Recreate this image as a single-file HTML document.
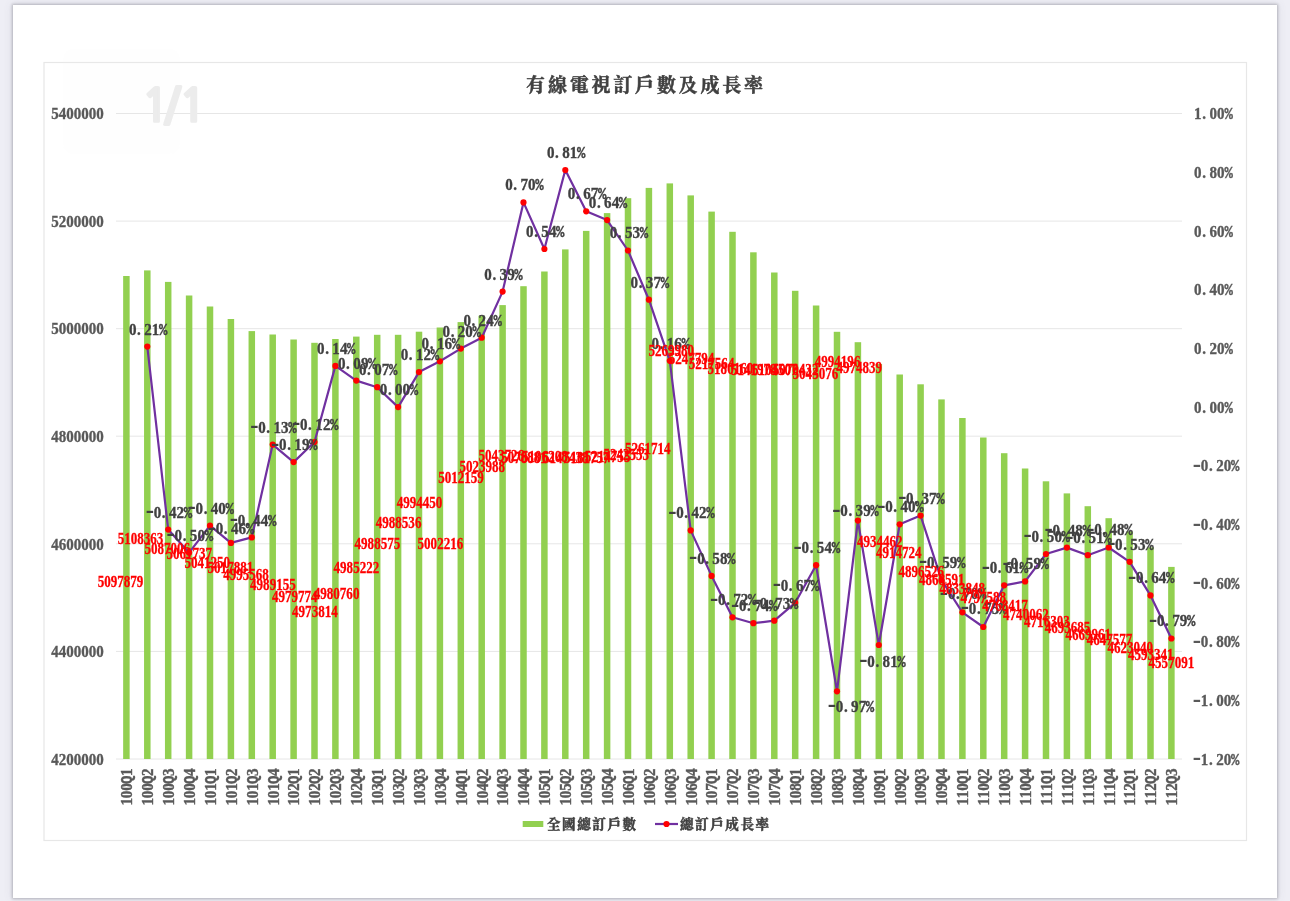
<!DOCTYPE html>
<html lang="zh-Hant"><head><meta charset="utf-8"><title>有線電視訂戶數及成長率</title>
<style>
html,body{margin:0;padding:0;}
body{width:1290px;height:901px;overflow:hidden;background:#eeeef5;font-family:"Liberation Serif","Noto Serif CJK SC",serif;}
.card{position:absolute;left:13px;top:5px;width:1264px;height:893px;background:#fff;box-shadow:0 0 2.5px .8px rgba(80,80,90,.32),0 0 9px 1px rgba(90,90,110,.10);}
svg{position:absolute;left:0;top:0;filter:blur(.3px);}
.ax{font:bold 17.7px "Liberation Serif","Noto Serif CJK SC",serif;fill:#595959;stroke:#595959;stroke-width:.35px;}
.cat{font:bold 17.7px "Liberation Serif","Noto Serif CJK SC",serif;fill:#595959;stroke:#595959;stroke-width:.4px;}
.pl{font:bold 17.7px "Liberation Serif","Noto Serif CJK SC",serif;fill:#404040;stroke:#404040;stroke-width:.35px;text-anchor:middle;}
.rl{font:bold 16.3px "Liberation Serif","Noto Serif CJK SC",serif;fill:#ff0000;stroke:#ff0000;stroke-width:.3px;text-anchor:middle;}
.ttl{font:bold 19px "Liberation Serif","Noto Serif CJK SC",serif;fill:#404040;text-anchor:middle;letter-spacing:2.8px;stroke:#404040;stroke-width:.5px;}
.lg{font:bold 13.5px "Liberation Serif","Noto Serif CJK SC",serif;fill:#404040;letter-spacing:1.6px;stroke:#404040;stroke-width:.5px;}
.wm{font:bold 46px "NanumGothic","Liberation Sans",sans-serif;fill:#ececec;stroke:#ececec;stroke-width:2px;stroke-linejoin:miter;}
.pc{font-family:"Liberation Mono",monospace;font-size:16.5px;}
.qq{font-family:"Liberation Mono",monospace;font-size:16.5px;}
.hy{font-family:"Liberation Mono",monospace;font-size:28px;font-weight:normal;stroke-width:0;}
</style></head><body>
<div class="card"></div>
<svg width="1290" height="901" viewBox="0 0 1290 901">

<rect x="44" y="62.5" width="1202.5" height="778" fill="#fff" stroke="#e7e7e7" stroke-width="1.2"/>
<rect x="63" y="49" width="117" height="105" rx="10" fill="#f2f2f2" fill-opacity="0.10"/>
<line x1="116" x2="1182" y1="113.5" y2="113.5" stroke="#e6e6e6" stroke-width="1"/>
<line x1="116" x2="1182" y1="221.1" y2="221.1" stroke="#e6e6e6" stroke-width="1"/>
<line x1="116" x2="1182" y1="328.7" y2="328.7" stroke="#e6e6e6" stroke-width="1"/>
<line x1="116" x2="1182" y1="436.2" y2="436.2" stroke="#e6e6e6" stroke-width="1"/>
<line x1="116" x2="1182" y1="543.8" y2="543.8" stroke="#e6e6e6" stroke-width="1"/>
<line x1="116" x2="1182" y1="651.4" y2="651.4" stroke="#e6e6e6" stroke-width="1"/>
<line x1="116" x2="1182" y1="759.0" y2="759.0" stroke="#e6e6e6" stroke-width="1"/>
<text class="wm" x="141.4 164.1 178.7" y="122">1/1</text>
<g fill="#92d050">
<rect x="123.15" y="276.0" width="6.5" height="483.0"/>
<rect x="144.05" y="270.4" width="6.5" height="488.6"/>
<rect x="164.95" y="281.9" width="6.5" height="477.1"/>
<rect x="185.85" y="295.5" width="6.5" height="463.5"/>
<rect x="206.75" y="306.5" width="6.5" height="452.5"/>
<rect x="227.65" y="319.0" width="6.5" height="440.0"/>
<rect x="248.55" y="331.1" width="6.5" height="427.9"/>
<rect x="269.45" y="334.5" width="6.5" height="424.5"/>
<rect x="290.35" y="339.5" width="6.5" height="419.5"/>
<rect x="311.25" y="342.8" width="6.5" height="416.2"/>
<rect x="332.15" y="339.0" width="6.5" height="420.0"/>
<rect x="353.05" y="336.6" width="6.5" height="422.4"/>
<rect x="373.95" y="334.8" width="6.5" height="424.2"/>
<rect x="394.85" y="334.8" width="6.5" height="424.2"/>
<rect x="415.75" y="331.7" width="6.5" height="427.3"/>
<rect x="436.65" y="327.5" width="6.5" height="431.5"/>
<rect x="457.55" y="322.1" width="6.5" height="436.9"/>
<rect x="478.45" y="315.8" width="6.5" height="443.2"/>
<rect x="499.35" y="305.1" width="6.5" height="453.9"/>
<rect x="520.25" y="286.2" width="6.5" height="472.8"/>
<rect x="541.15" y="271.5" width="6.5" height="487.5"/>
<rect x="562.05" y="249.4" width="6.5" height="509.6"/>
<rect x="582.95" y="230.9" width="6.5" height="528.1"/>
<rect x="603.85" y="213.1" width="6.5" height="545.9"/>
<rect x="624.75" y="198.2" width="6.5" height="560.8"/>
<rect x="645.65" y="187.9" width="6.5" height="571.1"/>
<rect x="666.55" y="183.4" width="6.5" height="575.6"/>
<rect x="687.45" y="195.4" width="6.5" height="563.6"/>
<rect x="708.35" y="211.6" width="6.5" height="547.4"/>
<rect x="729.25" y="231.8" width="6.5" height="527.2"/>
<rect x="750.15" y="252.3" width="6.5" height="506.7"/>
<rect x="771.05" y="272.5" width="6.5" height="486.5"/>
<rect x="791.95" y="290.8" width="6.5" height="468.2"/>
<rect x="812.85" y="305.5" width="6.5" height="453.5"/>
<rect x="833.75" y="331.8" width="6.5" height="427.2"/>
<rect x="854.65" y="342.2" width="6.5" height="416.8"/>
<rect x="875.55" y="363.9" width="6.5" height="395.1"/>
<rect x="896.45" y="374.5" width="6.5" height="384.5"/>
<rect x="917.35" y="384.3" width="6.5" height="374.7"/>
<rect x="938.25" y="399.4" width="6.5" height="359.6"/>
<rect x="959.15" y="418.0" width="6.5" height="341.0"/>
<rect x="980.05" y="437.5" width="6.5" height="321.5"/>
<rect x="1000.95" y="453.2" width="6.5" height="305.8"/>
<rect x="1021.85" y="468.5" width="6.5" height="290.5"/>
<rect x="1042.75" y="481.3" width="6.5" height="277.7"/>
<rect x="1063.65" y="493.4" width="6.5" height="265.6"/>
<rect x="1084.55" y="506.2" width="6.5" height="252.8"/>
<rect x="1105.45" y="518.2" width="6.5" height="240.8"/>
<rect x="1126.35" y="531.4" width="6.5" height="227.6"/>
<rect x="1147.25" y="547.4" width="6.5" height="211.6"/>
<rect x="1168.15" y="566.9" width="6.5" height="192.1"/>
</g>
<text class="ax" x="51.2" y="119.2" textLength="52.5" lengthAdjust="spacingAndGlyphs">5400000</text>
<text class="ax" x="51.2" y="226.8" textLength="52.5" lengthAdjust="spacingAndGlyphs">5200000</text>
<text class="ax" x="51.2" y="334.4" textLength="52.5" lengthAdjust="spacingAndGlyphs">5000000</text>
<text class="ax" x="51.2" y="441.9" textLength="52.5" lengthAdjust="spacingAndGlyphs">4800000</text>
<text class="ax" x="51.2" y="549.5" textLength="52.5" lengthAdjust="spacingAndGlyphs">4600000</text>
<text class="ax" x="51.2" y="657.1" textLength="52.5" lengthAdjust="spacingAndGlyphs">4400000</text>
<text class="ax" x="51.2" y="764.7" textLength="52.5" lengthAdjust="spacingAndGlyphs">4200000</text>
<text class="ax" transform="translate(0,119.2) scale(0.85,1)" x="1409.2 1416.6 1427.3 1436.3 1445.4" y="0" text-anchor="middle">1.00<tspan class="pc">%</tspan></text>
<text class="ax" transform="translate(0,177.9) scale(0.85,1)" x="1409.2 1416.6 1427.3 1436.3 1445.4" y="0" text-anchor="middle">0.80<tspan class="pc">%</tspan></text>
<text class="ax" transform="translate(0,236.6) scale(0.85,1)" x="1409.2 1416.6 1427.3 1436.3 1445.4" y="0" text-anchor="middle">0.60<tspan class="pc">%</tspan></text>
<text class="ax" transform="translate(0,295.2) scale(0.85,1)" x="1409.2 1416.6 1427.3 1436.3 1445.4" y="0" text-anchor="middle">0.40<tspan class="pc">%</tspan></text>
<text class="ax" transform="translate(0,353.9) scale(0.85,1)" x="1409.2 1416.6 1427.3 1436.3 1445.4" y="0" text-anchor="middle">0.20<tspan class="pc">%</tspan></text>
<text class="ax" transform="translate(0,412.6) scale(0.85,1)" x="1409.2 1416.6 1427.3 1436.3 1445.4" y="0" text-anchor="middle">0.00<tspan class="pc">%</tspan></text>
<text class="ax" transform="translate(0,471.3) scale(0.85,1)" x="1408.0 1417.1 1424.5 1435.2 1444.2 1453.2" y="0" text-anchor="middle" dy="1.5 -1.5"><tspan class="hy">-</tspan>0.20<tspan class="pc">%</tspan></text>
<text class="ax" transform="translate(0,530.0) scale(0.85,1)" x="1408.0 1417.1 1424.5 1435.2 1444.2 1453.2" y="0" text-anchor="middle" dy="1.5 -1.5"><tspan class="hy">-</tspan>0.40<tspan class="pc">%</tspan></text>
<text class="ax" transform="translate(0,588.7) scale(0.85,1)" x="1408.0 1417.1 1424.5 1435.2 1444.2 1453.2" y="0" text-anchor="middle" dy="1.5 -1.5"><tspan class="hy">-</tspan>0.60<tspan class="pc">%</tspan></text>
<text class="ax" transform="translate(0,647.3) scale(0.85,1)" x="1408.0 1417.1 1424.5 1435.2 1444.2 1453.2" y="0" text-anchor="middle" dy="1.5 -1.5"><tspan class="hy">-</tspan>0.80<tspan class="pc">%</tspan></text>
<text class="ax" transform="translate(0,706.0) scale(0.85,1)" x="1408.0 1417.1 1424.5 1435.2 1444.2 1453.2" y="0" text-anchor="middle" dy="1.5 -1.5"><tspan class="hy">-</tspan>1.00<tspan class="pc">%</tspan></text>
<text class="ax" transform="translate(0,764.7) scale(0.85,1)" x="1408.0 1417.1 1424.5 1435.2 1444.2 1453.2" y="0" text-anchor="middle" dy="1.5 -1.5"><tspan class="hy">-</tspan>1.20<tspan class="pc">%</tspan></text>
<text class="cat" transform="translate(132.2,805.6) rotate(-90) scale(0.85,1)" x="4.4 13.1 21.8 30.5 39.2" y="0" text-anchor="middle">100<tspan class="qq">Q</tspan>1</text>
<text class="cat" transform="translate(153.1,805.6) rotate(-90) scale(0.85,1)" x="4.4 13.1 21.8 30.5 39.2" y="0" text-anchor="middle">100<tspan class="qq">Q</tspan>2</text>
<text class="cat" transform="translate(174.0,805.6) rotate(-90) scale(0.85,1)" x="4.4 13.1 21.8 30.5 39.2" y="0" text-anchor="middle">100<tspan class="qq">Q</tspan>3</text>
<text class="cat" transform="translate(194.9,805.6) rotate(-90) scale(0.85,1)" x="4.4 13.1 21.8 30.5 39.2" y="0" text-anchor="middle">100<tspan class="qq">Q</tspan>4</text>
<text class="cat" transform="translate(215.8,805.6) rotate(-90) scale(0.85,1)" x="4.4 13.1 21.8 30.5 39.2" y="0" text-anchor="middle">101<tspan class="qq">Q</tspan>1</text>
<text class="cat" transform="translate(236.7,805.6) rotate(-90) scale(0.85,1)" x="4.4 13.1 21.8 30.5 39.2" y="0" text-anchor="middle">101<tspan class="qq">Q</tspan>2</text>
<text class="cat" transform="translate(257.6,805.6) rotate(-90) scale(0.85,1)" x="4.4 13.1 21.8 30.5 39.2" y="0" text-anchor="middle">101<tspan class="qq">Q</tspan>3</text>
<text class="cat" transform="translate(278.5,805.6) rotate(-90) scale(0.85,1)" x="4.4 13.1 21.8 30.5 39.2" y="0" text-anchor="middle">101<tspan class="qq">Q</tspan>4</text>
<text class="cat" transform="translate(299.4,805.6) rotate(-90) scale(0.85,1)" x="4.4 13.1 21.8 30.5 39.2" y="0" text-anchor="middle">102<tspan class="qq">Q</tspan>1</text>
<text class="cat" transform="translate(320.3,805.6) rotate(-90) scale(0.85,1)" x="4.4 13.1 21.8 30.5 39.2" y="0" text-anchor="middle">102<tspan class="qq">Q</tspan>2</text>
<text class="cat" transform="translate(341.2,805.6) rotate(-90) scale(0.85,1)" x="4.4 13.1 21.8 30.5 39.2" y="0" text-anchor="middle">102<tspan class="qq">Q</tspan>3</text>
<text class="cat" transform="translate(362.1,805.6) rotate(-90) scale(0.85,1)" x="4.4 13.1 21.8 30.5 39.2" y="0" text-anchor="middle">102<tspan class="qq">Q</tspan>4</text>
<text class="cat" transform="translate(383.0,805.6) rotate(-90) scale(0.85,1)" x="4.4 13.1 21.8 30.5 39.2" y="0" text-anchor="middle">103<tspan class="qq">Q</tspan>1</text>
<text class="cat" transform="translate(403.9,805.6) rotate(-90) scale(0.85,1)" x="4.4 13.1 21.8 30.5 39.2" y="0" text-anchor="middle">103<tspan class="qq">Q</tspan>2</text>
<text class="cat" transform="translate(424.8,805.6) rotate(-90) scale(0.85,1)" x="4.4 13.1 21.8 30.5 39.2" y="0" text-anchor="middle">103<tspan class="qq">Q</tspan>3</text>
<text class="cat" transform="translate(445.7,805.6) rotate(-90) scale(0.85,1)" x="4.4 13.1 21.8 30.5 39.2" y="0" text-anchor="middle">103<tspan class="qq">Q</tspan>4</text>
<text class="cat" transform="translate(466.6,805.6) rotate(-90) scale(0.85,1)" x="4.4 13.1 21.8 30.5 39.2" y="0" text-anchor="middle">104<tspan class="qq">Q</tspan>1</text>
<text class="cat" transform="translate(487.5,805.6) rotate(-90) scale(0.85,1)" x="4.4 13.1 21.8 30.5 39.2" y="0" text-anchor="middle">104<tspan class="qq">Q</tspan>2</text>
<text class="cat" transform="translate(508.4,805.6) rotate(-90) scale(0.85,1)" x="4.4 13.1 21.8 30.5 39.2" y="0" text-anchor="middle">104<tspan class="qq">Q</tspan>3</text>
<text class="cat" transform="translate(529.3,805.6) rotate(-90) scale(0.85,1)" x="4.4 13.1 21.8 30.5 39.2" y="0" text-anchor="middle">104<tspan class="qq">Q</tspan>4</text>
<text class="cat" transform="translate(550.2,805.6) rotate(-90) scale(0.85,1)" x="4.4 13.1 21.8 30.5 39.2" y="0" text-anchor="middle">105<tspan class="qq">Q</tspan>1</text>
<text class="cat" transform="translate(571.1,805.6) rotate(-90) scale(0.85,1)" x="4.4 13.1 21.8 30.5 39.2" y="0" text-anchor="middle">105<tspan class="qq">Q</tspan>2</text>
<text class="cat" transform="translate(592.0,805.6) rotate(-90) scale(0.85,1)" x="4.4 13.1 21.8 30.5 39.2" y="0" text-anchor="middle">105<tspan class="qq">Q</tspan>3</text>
<text class="cat" transform="translate(612.9,805.6) rotate(-90) scale(0.85,1)" x="4.4 13.1 21.8 30.5 39.2" y="0" text-anchor="middle">105<tspan class="qq">Q</tspan>4</text>
<text class="cat" transform="translate(633.8,805.6) rotate(-90) scale(0.85,1)" x="4.4 13.1 21.8 30.5 39.2" y="0" text-anchor="middle">106<tspan class="qq">Q</tspan>1</text>
<text class="cat" transform="translate(654.7,805.6) rotate(-90) scale(0.85,1)" x="4.4 13.1 21.8 30.5 39.2" y="0" text-anchor="middle">106<tspan class="qq">Q</tspan>2</text>
<text class="cat" transform="translate(675.6,805.6) rotate(-90) scale(0.85,1)" x="4.4 13.1 21.8 30.5 39.2" y="0" text-anchor="middle">106<tspan class="qq">Q</tspan>3</text>
<text class="cat" transform="translate(696.5,805.6) rotate(-90) scale(0.85,1)" x="4.4 13.1 21.8 30.5 39.2" y="0" text-anchor="middle">106<tspan class="qq">Q</tspan>4</text>
<text class="cat" transform="translate(717.4,805.6) rotate(-90) scale(0.85,1)" x="4.4 13.1 21.8 30.5 39.2" y="0" text-anchor="middle">107<tspan class="qq">Q</tspan>1</text>
<text class="cat" transform="translate(738.3,805.6) rotate(-90) scale(0.85,1)" x="4.4 13.1 21.8 30.5 39.2" y="0" text-anchor="middle">107<tspan class="qq">Q</tspan>2</text>
<text class="cat" transform="translate(759.2,805.6) rotate(-90) scale(0.85,1)" x="4.4 13.1 21.8 30.5 39.2" y="0" text-anchor="middle">107<tspan class="qq">Q</tspan>3</text>
<text class="cat" transform="translate(780.1,805.6) rotate(-90) scale(0.85,1)" x="4.4 13.1 21.8 30.5 39.2" y="0" text-anchor="middle">107<tspan class="qq">Q</tspan>4</text>
<text class="cat" transform="translate(801.0,805.6) rotate(-90) scale(0.85,1)" x="4.4 13.1 21.8 30.5 39.2" y="0" text-anchor="middle">108<tspan class="qq">Q</tspan>1</text>
<text class="cat" transform="translate(821.9,805.6) rotate(-90) scale(0.85,1)" x="4.4 13.1 21.8 30.5 39.2" y="0" text-anchor="middle">108<tspan class="qq">Q</tspan>2</text>
<text class="cat" transform="translate(842.8,805.6) rotate(-90) scale(0.85,1)" x="4.4 13.1 21.8 30.5 39.2" y="0" text-anchor="middle">108<tspan class="qq">Q</tspan>3</text>
<text class="cat" transform="translate(863.7,805.6) rotate(-90) scale(0.85,1)" x="4.4 13.1 21.8 30.5 39.2" y="0" text-anchor="middle">108<tspan class="qq">Q</tspan>4</text>
<text class="cat" transform="translate(884.6,805.6) rotate(-90) scale(0.85,1)" x="4.4 13.1 21.8 30.5 39.2" y="0" text-anchor="middle">109<tspan class="qq">Q</tspan>1</text>
<text class="cat" transform="translate(905.5,805.6) rotate(-90) scale(0.85,1)" x="4.4 13.1 21.8 30.5 39.2" y="0" text-anchor="middle">109<tspan class="qq">Q</tspan>2</text>
<text class="cat" transform="translate(926.4,805.6) rotate(-90) scale(0.85,1)" x="4.4 13.1 21.8 30.5 39.2" y="0" text-anchor="middle">109<tspan class="qq">Q</tspan>3</text>
<text class="cat" transform="translate(947.3,805.6) rotate(-90) scale(0.85,1)" x="4.4 13.1 21.8 30.5 39.2" y="0" text-anchor="middle">109<tspan class="qq">Q</tspan>4</text>
<text class="cat" transform="translate(968.2,805.6) rotate(-90) scale(0.85,1)" x="4.4 13.1 21.8 30.5 39.2" y="0" text-anchor="middle">110<tspan class="qq">Q</tspan>1</text>
<text class="cat" transform="translate(989.1,805.6) rotate(-90) scale(0.85,1)" x="4.4 13.1 21.8 30.5 39.2" y="0" text-anchor="middle">110<tspan class="qq">Q</tspan>2</text>
<text class="cat" transform="translate(1010.0,805.6) rotate(-90) scale(0.85,1)" x="4.4 13.1 21.8 30.5 39.2" y="0" text-anchor="middle">110<tspan class="qq">Q</tspan>3</text>
<text class="cat" transform="translate(1030.9,805.6) rotate(-90) scale(0.85,1)" x="4.4 13.1 21.8 30.5 39.2" y="0" text-anchor="middle">110<tspan class="qq">Q</tspan>4</text>
<text class="cat" transform="translate(1051.8,805.6) rotate(-90) scale(0.85,1)" x="4.4 13.1 21.8 30.5 39.2" y="0" text-anchor="middle">111<tspan class="qq">Q</tspan>1</text>
<text class="cat" transform="translate(1072.7,805.6) rotate(-90) scale(0.85,1)" x="4.4 13.1 21.8 30.5 39.2" y="0" text-anchor="middle">111<tspan class="qq">Q</tspan>2</text>
<text class="cat" transform="translate(1093.6,805.6) rotate(-90) scale(0.85,1)" x="4.4 13.1 21.8 30.5 39.2" y="0" text-anchor="middle">111<tspan class="qq">Q</tspan>3</text>
<text class="cat" transform="translate(1114.5,805.6) rotate(-90) scale(0.85,1)" x="4.4 13.1 21.8 30.5 39.2" y="0" text-anchor="middle">111<tspan class="qq">Q</tspan>4</text>
<text class="cat" transform="translate(1135.4,805.6) rotate(-90) scale(0.85,1)" x="4.4 13.1 21.8 30.5 39.2" y="0" text-anchor="middle">112<tspan class="qq">Q</tspan>1</text>
<text class="cat" transform="translate(1156.3,805.6) rotate(-90) scale(0.85,1)" x="4.4 13.1 21.8 30.5 39.2" y="0" text-anchor="middle">112<tspan class="qq">Q</tspan>2</text>
<text class="cat" transform="translate(1177.2,805.6) rotate(-90) scale(0.85,1)" x="4.4 13.1 21.8 30.5 39.2" y="0" text-anchor="middle">112<tspan class="qq">Q</tspan>3</text>
<polyline points="147.3,346.6 168.2,529.6 189.1,552.7 210.0,525.7 230.9,542.9 251.8,537.4 272.7,444.6 293.6,462.1 314.5,442.0 335.4,365.9 356.3,380.6 377.2,387.2 398.1,407.1 419.0,372.1 439.9,361.3 460.8,348.6 481.7,337.7 502.6,291.6 523.5,202.4 544.4,249.0 565.3,170.0 586.2,211.3 607.1,220.1 628.0,250.5 648.9,299.7 669.8,360.8 690.7,530.4 711.6,575.9 732.5,617.3 753.4,623.2 774.3,620.7 795.2,602.8 816.1,565.2 837.0,691.3 857.9,520.6 878.8,645.0 899.7,524.3 920.6,515.6 941.5,580.0 962.4,612.3 983.3,627.0 1004.2,585.3 1025.1,581.4 1046.0,554.0 1066.9,547.6 1087.8,555.2 1108.7,547.5 1129.6,561.8 1150.5,595.4 1171.4,638.5" fill="none" stroke="#7030a0" stroke-width="2.2" stroke-linejoin="round"/>
<g fill="#ff0000">
<circle cx="147.3" cy="346.6" r="3.1"/>
<circle cx="168.2" cy="529.6" r="3.1"/>
<circle cx="189.1" cy="552.7" r="3.1"/>
<circle cx="210.0" cy="525.7" r="3.1"/>
<circle cx="230.9" cy="542.9" r="3.1"/>
<circle cx="251.8" cy="537.4" r="3.1"/>
<circle cx="272.7" cy="444.6" r="3.1"/>
<circle cx="293.6" cy="462.1" r="3.1"/>
<circle cx="314.5" cy="442.0" r="3.1"/>
<circle cx="335.4" cy="365.9" r="3.1"/>
<circle cx="356.3" cy="380.6" r="3.1"/>
<circle cx="377.2" cy="387.2" r="3.1"/>
<circle cx="398.1" cy="407.1" r="3.1"/>
<circle cx="419.0" cy="372.1" r="3.1"/>
<circle cx="439.9" cy="361.3" r="3.1"/>
<circle cx="460.8" cy="348.6" r="3.1"/>
<circle cx="481.7" cy="337.7" r="3.1"/>
<circle cx="502.6" cy="291.6" r="3.1"/>
<circle cx="523.5" cy="202.4" r="3.1"/>
<circle cx="544.4" cy="249.0" r="3.1"/>
<circle cx="565.3" cy="170.0" r="3.1"/>
<circle cx="586.2" cy="211.3" r="3.1"/>
<circle cx="607.1" cy="220.1" r="3.1"/>
<circle cx="628.0" cy="250.5" r="3.1"/>
<circle cx="648.9" cy="299.7" r="3.1"/>
<circle cx="669.8" cy="360.8" r="3.1"/>
<circle cx="690.7" cy="530.4" r="3.1"/>
<circle cx="711.6" cy="575.9" r="3.1"/>
<circle cx="732.5" cy="617.3" r="3.1"/>
<circle cx="753.4" cy="623.2" r="3.1"/>
<circle cx="774.3" cy="620.7" r="3.1"/>
<circle cx="795.2" cy="602.8" r="3.1"/>
<circle cx="816.1" cy="565.2" r="3.1"/>
<circle cx="837.0" cy="691.3" r="3.1"/>
<circle cx="857.9" cy="520.6" r="3.1"/>
<circle cx="878.8" cy="645.0" r="3.1"/>
<circle cx="899.7" cy="524.3" r="3.1"/>
<circle cx="920.6" cy="515.6" r="3.1"/>
<circle cx="941.5" cy="580.0" r="3.1"/>
<circle cx="962.4" cy="612.3" r="3.1"/>
<circle cx="983.3" cy="627.0" r="3.1"/>
<circle cx="1004.2" cy="585.3" r="3.1"/>
<circle cx="1025.1" cy="581.4" r="3.1"/>
<circle cx="1046.0" cy="554.0" r="3.1"/>
<circle cx="1066.9" cy="547.6" r="3.1"/>
<circle cx="1087.8" cy="555.2" r="3.1"/>
<circle cx="1108.7" cy="547.5" r="3.1"/>
<circle cx="1129.6" cy="561.8" r="3.1"/>
<circle cx="1150.5" cy="595.4" r="3.1"/>
<circle cx="1171.4" cy="638.5" r="3.1"/>
</g>
<text class="pl" transform="translate(0,334.5) scale(0.85,1)" x="156.2 163.5 174.1 183.1 192.0" y="0" text-anchor="middle">0.21<tspan class="pc">%</tspan></text>
<text class="pl" transform="translate(0,517.5) scale(0.85,1)" x="176.3 185.3 192.6 203.2 212.2 221.1" y="0" text-anchor="middle" dy="1.5 -1.5"><tspan class="hy">-</tspan>0.42<tspan class="pc">%</tspan></text>
<text class="pl" transform="translate(0,540.6) scale(0.85,1)" x="200.9 209.8 217.2 227.8 236.7 245.7" y="0" text-anchor="middle" dy="1.5 -1.5"><tspan class="hy">-</tspan>0.50<tspan class="pc">%</tspan></text>
<text class="pl" transform="translate(0,513.6) scale(0.85,1)" x="225.5 234.4 241.8 252.4 261.3 270.3" y="0" text-anchor="middle" dy="1.5 -1.5"><tspan class="hy">-</tspan>0.40<tspan class="pc">%</tspan></text>
<text class="pl" transform="translate(0,534.0) scale(0.85,1)" x="249.2 258.2 265.6 276.1 285.1 294.1" y="0" text-anchor="middle" dy="1.5 -1.5"><tspan class="hy">-</tspan>0.46<tspan class="pc">%</tspan></text>
<text class="pl" transform="translate(0,525.5) scale(0.85,1)" x="275.2 284.2 291.6 302.1 311.1 320.1" y="0" text-anchor="middle" dy="1.5 -1.5"><tspan class="hy">-</tspan>0.44<tspan class="pc">%</tspan></text>
<text class="pl" transform="translate(0,432.5) scale(0.85,1)" x="299.2 308.2 315.6 326.1 335.1 344.1" y="0" text-anchor="middle" dy="1.5 -1.5"><tspan class="hy">-</tspan>0.13<tspan class="pc">%</tspan></text>
<text class="pl" transform="translate(0,450.0) scale(0.85,1)" x="323.8 332.8 340.1 350.7 359.7 368.6" y="0" text-anchor="middle" dy="1.5 -1.5"><tspan class="hy">-</tspan>0.19<tspan class="pc">%</tspan></text>
<text class="pl" transform="translate(0,429.9) scale(0.85,1)" x="348.4 357.4 364.7 375.3 384.3 393.2" y="0" text-anchor="middle" dy="1.5 -1.5"><tspan class="hy">-</tspan>0.12<tspan class="pc">%</tspan></text>
<text class="pl" transform="translate(0,353.8) scale(0.85,1)" x="377.5 384.8 395.4 404.4 413.3" y="0" text-anchor="middle">0.14<tspan class="pc">%</tspan></text>
<text class="pl" transform="translate(0,368.5) scale(0.85,1)" x="402.1 409.4 420.0 429.0 437.9" y="0" text-anchor="middle">0.09<tspan class="pc">%</tspan></text>
<text class="pl" transform="translate(0,375.1) scale(0.85,1)" x="426.7 434.0 444.6 453.6 462.5" y="0" text-anchor="middle">0.07<tspan class="pc">%</tspan></text>
<text class="pl" transform="translate(0,395.0) scale(0.85,1)" x="451.2 458.6 469.2 478.1 487.1" y="0" text-anchor="middle">0.00<tspan class="pc">%</tspan></text>
<text class="pl" transform="translate(0,360.0) scale(0.85,1)" x="475.8 483.2 493.8 502.7 511.7" y="0" text-anchor="middle">0.12<tspan class="pc">%</tspan></text>
<text class="pl" transform="translate(0,349.2) scale(0.85,1)" x="500.4 507.8 518.4 527.3 536.3" y="0" text-anchor="middle">0.16<tspan class="pc">%</tspan></text>
<text class="pl" transform="translate(0,336.5) scale(0.85,1)" x="525.0 532.4 542.9 551.9 560.9" y="0" text-anchor="middle">0.20<tspan class="pc">%</tspan></text>
<text class="pl" transform="translate(0,325.6) scale(0.85,1)" x="549.6 557.0 567.5 576.5 585.5" y="0" text-anchor="middle">0.24<tspan class="pc">%</tspan></text>
<text class="pl" transform="translate(0,279.5) scale(0.85,1)" x="574.2 581.5 592.1 601.1 610.0" y="0" text-anchor="middle">0.39<tspan class="pc">%</tspan></text>
<text class="pl" transform="translate(0,190.3) scale(0.85,1)" x="598.8 606.1 616.7 625.7 634.6" y="0" text-anchor="middle">0.70<tspan class="pc">%</tspan></text>
<text class="pl" transform="translate(0,236.9) scale(0.85,1)" x="623.4 630.7 641.3 650.3 659.2" y="0" text-anchor="middle">0.54<tspan class="pc">%</tspan></text>
<text class="pl" transform="translate(0,157.9) scale(0.85,1)" x="648.0 655.3 665.9 674.8 683.8" y="0" text-anchor="middle">0.81<tspan class="pc">%</tspan></text>
<text class="pl" transform="translate(0,199.2) scale(0.85,1)" x="672.5 679.9 690.5 699.4 708.4" y="0" text-anchor="middle">0.67<tspan class="pc">%</tspan></text>
<text class="pl" transform="translate(0,208.0) scale(0.85,1)" x="697.1 704.5 715.1 724.0 733.0" y="0" text-anchor="middle">0.64<tspan class="pc">%</tspan></text>
<text class="pl" transform="translate(0,237.6) scale(0.85,1)" x="721.7 729.1 739.6 748.6 757.6" y="0" text-anchor="middle">0.53<tspan class="pc">%</tspan></text>
<text class="pl" transform="translate(0,287.6) scale(0.85,1)" x="746.3 753.7 764.2 773.2 782.2" y="0" text-anchor="middle">0.37<tspan class="pc">%</tspan></text>
<text class="pl" transform="translate(0,348.7) scale(0.85,1)" x="770.9 778.2 788.8 797.8 806.8" y="0" text-anchor="middle">0.16<tspan class="pc">%</tspan></text>
<text class="pl" transform="translate(0,518.3) scale(0.85,1)" x="791.0 800.0 807.3 817.9 826.9 835.8" y="0" text-anchor="middle" dy="1.5 -1.5"><tspan class="hy">-</tspan>0.42<tspan class="pc">%</tspan></text>
<text class="pl" transform="translate(0,563.8) scale(0.85,1)" x="815.6 824.6 831.9 842.5 851.4 860.4" y="0" text-anchor="middle" dy="1.5 -1.5"><tspan class="hy">-</tspan>0.58<tspan class="pc">%</tspan></text>
<text class="pl" transform="translate(0,605.2) scale(0.85,1)" x="840.2 849.1 856.5 867.1 876.0 885.0" y="0" text-anchor="middle" dy="1.5 -1.5"><tspan class="hy">-</tspan>0.72<tspan class="pc">%</tspan></text>
<text class="pl" transform="translate(0,611.1) scale(0.85,1)" x="864.8 873.7 881.1 891.7 900.6 909.6" y="0" text-anchor="middle" dy="1.5 -1.5"><tspan class="hy">-</tspan>0.74<tspan class="pc">%</tspan></text>
<text class="pl" transform="translate(0,608.6) scale(0.85,1)" x="889.4 898.3 905.7 916.2 925.2 934.2" y="0" text-anchor="middle" dy="1.5 -1.5"><tspan class="hy">-</tspan>0.73<tspan class="pc">%</tspan></text>
<text class="pl" transform="translate(0,590.7) scale(0.85,1)" x="913.9 922.9 930.3 940.8 949.8 958.8" y="0" text-anchor="middle" dy="1.5 -1.5"><tspan class="hy">-</tspan>0.67<tspan class="pc">%</tspan></text>
<text class="pl" transform="translate(0,553.1) scale(0.85,1)" x="938.5 947.5 954.8 965.4 974.4 983.4" y="0" text-anchor="middle" dy="1.5 -1.5"><tspan class="hy">-</tspan>0.54<tspan class="pc">%</tspan></text>
<text class="pl" transform="translate(0,711.8) scale(0.85,1)" x="978.8 987.7 995.1 1005.7 1014.6 1023.6" y="0" text-anchor="middle" dy="1.5 -1.5"><tspan class="hy">-</tspan>0.97<tspan class="pc">%</tspan></text>
<text class="pl" transform="translate(0,516.1) scale(0.85,1)" x="984.1 993.0 1000.4 1011.0 1019.9 1028.9" y="0" text-anchor="middle" dy="1.5 -1.5"><tspan class="hy">-</tspan>0.39<tspan class="pc">%</tspan></text>
<text class="pl" transform="translate(0,666.9) scale(0.85,1)" x="1015.8 1024.8 1032.1 1042.7 1051.7 1060.6" y="0" text-anchor="middle" dy="1.5 -1.5"><tspan class="hy">-</tspan>0.81<tspan class="pc">%</tspan></text>
<text class="pl" transform="translate(0,512.2) scale(0.85,1)" x="1036.9 1045.8 1053.2 1063.8 1072.7 1081.7" y="0" text-anchor="middle" dy="1.5 -1.5"><tspan class="hy">-</tspan>0.40<tspan class="pc">%</tspan></text>
<text class="pl" transform="translate(0,503.5) scale(0.85,1)" x="1061.5 1070.4 1077.8 1088.4 1097.3 1106.3" y="0" text-anchor="middle" dy="1.5 -1.5"><tspan class="hy">-</tspan>0.37<tspan class="pc">%</tspan></text>
<text class="pl" transform="translate(0,567.9) scale(0.85,1)" x="1086.1 1095.0 1102.4 1113.0 1121.9 1130.9" y="0" text-anchor="middle" dy="1.5 -1.5"><tspan class="hy">-</tspan>0.59<tspan class="pc">%</tspan></text>
<text class="pl" transform="translate(0,599.2) scale(0.85,1)" x="1110.6 1119.6 1127.0 1137.5 1146.5 1155.5" y="0" text-anchor="middle" dy="1.5 -1.5"><tspan class="hy">-</tspan>0.70<tspan class="pc">%</tspan></text>
<text class="pl" transform="translate(0,613.8) scale(0.85,1)" x="1135.2 1144.2 1151.6 1162.1 1171.1 1180.1" y="0" text-anchor="middle" dy="1.5 -1.5"><tspan class="hy">-</tspan>0.75<tspan class="pc">%</tspan></text>
<text class="pl" transform="translate(0,573.2) scale(0.85,1)" x="1159.8 1168.8 1176.1 1186.7 1195.7 1204.6" y="0" text-anchor="middle" dy="1.5 -1.5"><tspan class="hy">-</tspan>0.61<tspan class="pc">%</tspan></text>
<text class="pl" transform="translate(0,569.3) scale(0.85,1)" x="1184.4 1193.4 1200.7 1211.3 1220.3 1229.2" y="0" text-anchor="middle" dy="1.5 -1.5"><tspan class="hy">-</tspan>0.59<tspan class="pc">%</tspan></text>
<text class="pl" transform="translate(0,541.9) scale(0.85,1)" x="1209.0 1218.0 1225.3 1235.9 1244.9 1253.8" y="0" text-anchor="middle" dy="1.5 -1.5"><tspan class="hy">-</tspan>0.50<tspan class="pc">%</tspan></text>
<text class="pl" transform="translate(0,535.5) scale(0.85,1)" x="1233.6 1242.6 1249.9 1260.5 1269.4 1278.4" y="0" text-anchor="middle" dy="1.5 -1.5"><tspan class="hy">-</tspan>0.48<tspan class="pc">%</tspan></text>
<text class="pl" transform="translate(0,543.1) scale(0.85,1)" x="1258.2 1267.1 1274.5 1285.1 1294.0 1303.0" y="0" text-anchor="middle" dy="1.5 -1.5"><tspan class="hy">-</tspan>0.51<tspan class="pc">%</tspan></text>
<text class="pl" transform="translate(0,535.4) scale(0.85,1)" x="1282.8 1291.7 1299.1 1309.7 1318.6 1327.6" y="0" text-anchor="middle" dy="1.5 -1.5"><tspan class="hy">-</tspan>0.48<tspan class="pc">%</tspan></text>
<text class="pl" transform="translate(0,549.7) scale(0.85,1)" x="1307.4 1316.3 1323.7 1334.2 1343.2 1352.2" y="0" text-anchor="middle" dy="1.5 -1.5"><tspan class="hy">-</tspan>0.53<tspan class="pc">%</tspan></text>
<text class="pl" transform="translate(0,583.3) scale(0.85,1)" x="1331.9 1340.9 1348.3 1358.8 1367.8 1376.8" y="0" text-anchor="middle" dy="1.5 -1.5"><tspan class="hy">-</tspan>0.64<tspan class="pc">%</tspan></text>
<text class="pl" transform="translate(0,626.4) scale(0.85,1)" x="1356.5 1365.5 1372.8 1383.4 1392.4 1401.4" y="0" text-anchor="middle" dy="1.5 -1.5"><tspan class="hy">-</tspan>0.79<tspan class="pc">%</tspan></text>
<text class="rl" x="120.5" y="587.3" textLength="45.6" lengthAdjust="spacingAndGlyphs">5097879</text>
<text class="rl" x="140.5" y="543.8" textLength="45.6" lengthAdjust="spacingAndGlyphs">5108363</text>
<text class="rl" x="167.3" y="553.9" textLength="45.6" lengthAdjust="spacingAndGlyphs">5087006</text>
<text class="rl" x="189.3" y="558.8" textLength="45.6" lengthAdjust="spacingAndGlyphs">5061737</text>
<text class="rl" x="207.2" y="568.3" textLength="45.6" lengthAdjust="spacingAndGlyphs">5041250</text>
<text class="rl" x="230.4" y="573.3" textLength="45.6" lengthAdjust="spacingAndGlyphs">5017881</text>
<text class="rl" x="246.0" y="579.9" textLength="45.6" lengthAdjust="spacingAndGlyphs">4995568</text>
<text class="rl" x="272.9" y="590.3" textLength="45.6" lengthAdjust="spacingAndGlyphs">4989155</text>
<text class="rl" x="294.8" y="602.4" textLength="45.6" lengthAdjust="spacingAndGlyphs">4979774</text>
<text class="rl" x="314.9" y="616.5" textLength="45.6" lengthAdjust="spacingAndGlyphs">4973814</text>
<text class="rl" x="336.6" y="598.8" textLength="45.6" lengthAdjust="spacingAndGlyphs">4980760</text>
<text class="rl" x="356.4" y="573.2" textLength="45.6" lengthAdjust="spacingAndGlyphs">4985222</text>
<text class="rl" x="377.4" y="549.0" textLength="45.6" lengthAdjust="spacingAndGlyphs">4988575</text>
<text class="rl" x="398.6" y="527.5" textLength="45.6" lengthAdjust="spacingAndGlyphs">4988536</text>
<text class="rl" x="419.5" y="508.1" textLength="45.6" lengthAdjust="spacingAndGlyphs">4994450</text>
<text class="rl" x="440.4" y="549.0" textLength="45.6" lengthAdjust="spacingAndGlyphs">5002216</text>
<text class="rl" x="461.0" y="482.5" textLength="45.6" lengthAdjust="spacingAndGlyphs">5012159</text>
<text class="rl" x="482.2" y="471.8" textLength="45.6" lengthAdjust="spacingAndGlyphs">5023988</text>
<text class="rl" x="501.3" y="460.9" textLength="45.6" lengthAdjust="spacingAndGlyphs">5043726</text>
<text class="rl" x="524.0" y="462.8" textLength="45.6" lengthAdjust="spacingAndGlyphs">5078881</text>
<text class="rl" x="544.9" y="461.8" textLength="45.6" lengthAdjust="spacingAndGlyphs">5106208</text>
<text class="rl" x="565.8" y="463.3" textLength="45.6" lengthAdjust="spacingAndGlyphs">5147438</text>
<text class="rl" x="586.7" y="463.3" textLength="45.6" lengthAdjust="spacingAndGlyphs">5181757</text>
<text class="rl" x="607.6" y="462.3" textLength="45.6" lengthAdjust="spacingAndGlyphs">5214755</text>
<text class="rl" x="626.2" y="459.8" textLength="45.6" lengthAdjust="spacingAndGlyphs">5242553</text>
<text class="rl" x="647.8" y="454.4" textLength="45.6" lengthAdjust="spacingAndGlyphs">5261714</text>
<text class="rl" x="671.3" y="355.5" textLength="45.6" lengthAdjust="spacingAndGlyphs">5269980</text>
<text class="rl" x="691.5" y="363.5" textLength="45.6" lengthAdjust="spacingAndGlyphs">5247794</text>
<text class="rl" x="711.6" y="368.6" textLength="45.6" lengthAdjust="spacingAndGlyphs">5217564</text>
<text class="rl" x="730.4" y="374.0" textLength="45.6" lengthAdjust="spacingAndGlyphs">5180160</text>
<text class="rl" x="753.8" y="374.6" textLength="45.6" lengthAdjust="spacingAndGlyphs">5141978</text>
<text class="rl" x="774.7" y="374.6" textLength="45.6" lengthAdjust="spacingAndGlyphs">5104507</text>
<text class="rl" x="795.6" y="374.6" textLength="45.6" lengthAdjust="spacingAndGlyphs">5070432</text>
<text class="rl" x="815.4" y="378.6" textLength="45.6" lengthAdjust="spacingAndGlyphs">5043076</text>
<text class="rl" x="837.6" y="367.1" textLength="45.6" lengthAdjust="spacingAndGlyphs">4994196</text>
<text class="rl" x="859.3" y="372.6" textLength="45.6" lengthAdjust="spacingAndGlyphs">4974839</text>
<text class="rl" x="879.8" y="547.0" textLength="45.6" lengthAdjust="spacingAndGlyphs">4934462</text>
<text class="rl" x="898.8" y="558.2" textLength="45.6" lengthAdjust="spacingAndGlyphs">4914724</text>
<text class="rl" x="921.2" y="577.2" textLength="45.6" lengthAdjust="spacingAndGlyphs">4896526</text>
<text class="rl" x="941.8" y="585.0" textLength="45.6" lengthAdjust="spacingAndGlyphs">4868591</text>
<text class="rl" x="962.3" y="593.5" textLength="45.6" lengthAdjust="spacingAndGlyphs">4833848</text>
<text class="rl" x="983.2" y="602.8" textLength="45.6" lengthAdjust="spacingAndGlyphs">4797588</text>
<text class="rl" x="1005.0" y="611.3" textLength="45.6" lengthAdjust="spacingAndGlyphs">4768417</text>
<text class="rl" x="1025.9" y="619.9" textLength="45.6" lengthAdjust="spacingAndGlyphs">4740062</text>
<text class="rl" x="1046.9" y="626.9" textLength="45.6" lengthAdjust="spacingAndGlyphs">4716303</text>
<text class="rl" x="1067.5" y="633.1" textLength="45.6" lengthAdjust="spacingAndGlyphs">4693685</text>
<text class="rl" x="1088.2" y="639.5" textLength="45.6" lengthAdjust="spacingAndGlyphs">4669961</text>
<text class="rl" x="1109.5" y="645.2" textLength="45.6" lengthAdjust="spacingAndGlyphs">4647577</text>
<text class="rl" x="1130.2" y="653.2" textLength="45.6" lengthAdjust="spacingAndGlyphs">4623040</text>
<text class="rl" x="1150.8" y="660.3" textLength="45.6" lengthAdjust="spacingAndGlyphs">4593341</text>
<text class="rl" x="1171.4" y="668.3" textLength="45.6" lengthAdjust="spacingAndGlyphs">4557091</text>
<text class="ttl" x="646" y="92">有線電視訂戶數及成長率</text>
<rect x="522.7" y="821" width="20.6" height="6" fill="#92d050"/>
<text class="lg" x="547" y="829">全國總訂戶數</text>
<line x1="655" x2="678" y1="824" y2="824" stroke="#7030a0" stroke-width="2.2"/>
<circle cx="666.5" cy="824" r="3.1" fill="#ff0000"/>
<text class="lg" x="680" y="829">總訂戶成長率</text>
</svg></body></html>
